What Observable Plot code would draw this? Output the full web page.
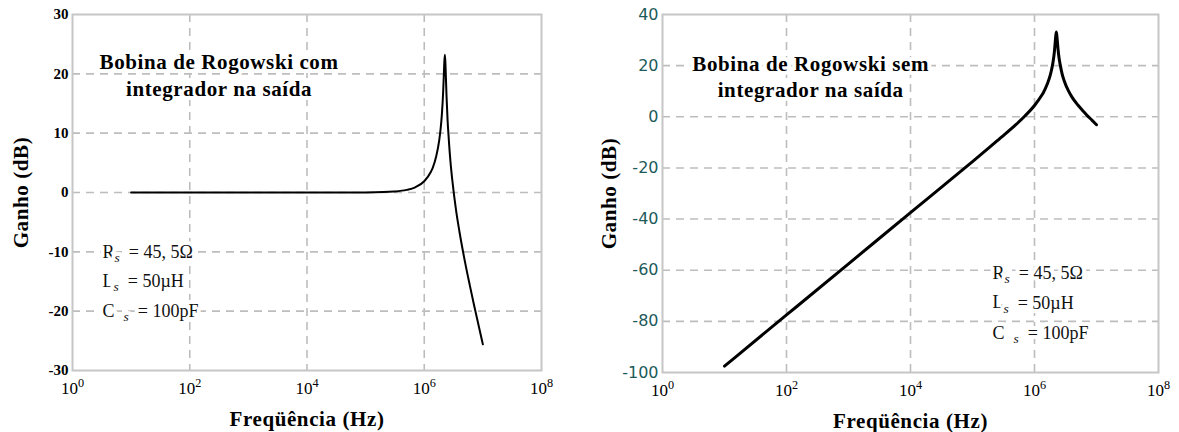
<!DOCTYPE html>
<html>
<head>
<meta charset="utf-8">
<script src="https://cdn.jsdelivr.net/npm/d3@7"></script>
<script src="https://cdn.jsdelivr.net/npm/@observablehq/plot@0.6"></script>
<style>
  html, body { margin: 0; padding: 0; background: #fff; }
  #wrap { display: flex; width: 1179px; height: 432px; }
  #wrap svg { overflow: visible; }
  #wrap g[aria-label="x-axis label"] text, #wrap g[aria-label="y-axis label"] text {
    font-family: "Liberation Serif", serif !important; font-size: 21px !important;
    font-weight: bold !important; letter-spacing: 0.6px; fill: #000 !important;
  }
  #wrap g[aria-label="x-axis tick label"] text {
    font-family: "Liberation Serif", serif !important; font-size: 17px !important; fill: #000 !important;
  }
  #left g[aria-label="y-axis tick label"] text {
    font-family: "Liberation Serif", serif !important; font-size: 15px !important; font-weight: bold !important; fill: #000 !important;
  }
  #right g[aria-label="y-axis tick label"] text {
    font-family: "DejaVu Sans", sans-serif !important; font-size: 16px !important; fill: #1d5a5a !important;
  }
  #wrap g[aria-label="text"] text { letter-spacing: 0.6px; }
</style>
</head>
<body>
<div id="wrap"><div id="left"></div><div id="right"></div></div>
<script>
// ---- data ----
const freqHz = [10, 100, 1e3, 1e4, 1e5, 2e5, 3e5, 5e5, 7e5, 1e6, 1.3e6, 1.4e6, 1.6e6, 1.8e6, 1.9e6, 2.0e6, 2.1e6, 2.15e6, 2.2e6, 2.25e6, 2.3e6, 2.35e6, 2.4e6, 2.5e6, 2.6e6, 2.8e6, 3e6, 3.5e6, 4e6, 5e6, 6e6, 7e6, 8.5e6, 1e7];
const gainWithIntegratorDb = [0, 0, 0, 0, 0.02, 0.07, 0.16, 0.44, 0.88, 1.9, 3.5, 4.2, 6.1, 8.8, 10.7, 13.2, 16.9, 19.4, 22.0, 23.2, 21.6, 18.9, 16.2, 12.2, 9.5, 5.2, 2.2, -3.1, -6.7, -11.9, -15.7, -18.8, -22.5, -25.6];
const gainWithoutIntegratorDb = [-97.5, -77.5, -57.5, -37.5, -17.5, -11.4, -7.8, -3.1, 0.3, 4.4, 8.3, 9.6, 12.7, 16.4, 18.8, 21.7, 25.8, 28.6, 31.4, 33.2, 31.3, 28.8, 26.3, 22.7, 20.3, 16.6, 14.2, 10.3, 7.8, 4.6, 2.4, 0.6, -1.4, -3.1];

const xTicks = [1, 1e2, 1e4, 1e6, 1e8];
const xGrid = [1e2, 1e4, 1e6];
const yTicksLeft = [-30, -20, -10, 0, 10, 20, 30];
const yGridLeft = [-20, -10, 0, 10, 20];
const yTicksRight = [-100, -80, -60, -40, -20, 0, 20, 40];
const yGridRight = [-80, -60, -40, -20, 0, 20];

const titleLeft = ["Bobina de Rogowski com", "integrador na saída"];
const titleRight = ["Bobina de Rogowski sem", "integrador na saída"];
const paramNames = ["R", "L", "C\u2002"];
const paramValues = ["= 45, 5Ω", "= 50µH", "= 100pF"];
const xLabel = "Freqüência (Hz)";
const yLabel = "Ganho (dB)";

const rowsLeft = freqHz.map((f, i) => ({f, g: gainWithIntegratorDb[i]}));
const rowsRight = freqHz.map((f, i) => ({f, g: gainWithoutIntegratorDb[i]}));

const SERIF = "Liberation Serif, Times New Roman, serif";
const gridStyle = {stroke: "#bdbdbd", strokeOpacity: 1, strokeWidth: 1.6, strokeDasharray: "8,6"};
const expFmt = d => "10^" + Math.round(Math.log10(d));
const plainFmt = d => String(d);

function superscriptTicks(svg) {
  d3.select(svg).selectAll('g[aria-label="x-axis tick label"] text').each(function () {
    const parts = this.textContent.split("^");
    if (parts.length < 2) return;
    const s = d3.select(this);
    s.text(null);
    s.append("tspan").text(parts[0]);
    s.append("tspan").attr("dy", "-0.5em").attr("font-size", "0.72em").text(parts[1]);
  });
}

function addParams(svg, plot, xPos, yPos) {
  const sx = plot.scale("x"), sy = plot.scale("y");
  const g = d3.select(svg).append("g")
    .attr("font-family", SERIF).attr("font-size", 18).attr("fill", "#111")
    .attr("text-anchor", "start");
  paramNames.forEach((n, i) => {
    const t = g.append("text")
      .attr("x", sx.apply(xPos)).attr("y", sy.apply(yPos[i]))
      .attr("dy", "0.35em")
      .attr("stroke", "white").attr("stroke-width", 8).attr("stroke-linejoin", "round")
      .attr("paint-order", "stroke");
    t.append("tspan").text(n);
    t.append("tspan").attr("dy", "0.3em").attr("font-size", "0.75em").attr("font-style", "italic").text("s");
    t.append("tspan").attr("dy", "-0.22em").text("\u2002" + paramValues[i]);
  });
}

function makePlot(opts) {
  const rows = opts.rows;
  const plot = Plot.plot({
    width: opts.width, height: 432,
    marginLeft: opts.ml, marginRight: opts.mr, marginTop: 14, marginBottom: opts.mb,
    style: {fontFamily: SERIF, fontSize: "15px", color: "#000", background: "#fff"},
    x: {type: "log", domain: [1, 1e8]},
    y: {domain: opts.yDomain},
    marks: [
      Plot.gridX(xGrid, gridStyle),
      Plot.gridY(opts.yGrid, gridStyle),
      Plot.frame({stroke: "#c6c6c6", strokeWidth: 2}),
      Plot.axisX(xTicks, {tickSize: 0, tickPadding: 11, tickFormat: expFmt,
        label: xLabel, labelAnchor: "center", labelArrow: "none", labelOffset: 55}),
      Plot.axisY(opts.yTicks, {tickSize: 0, tickPadding: 4, tickFormat: plainFmt,
        label: yLabel, labelAnchor: "center", labelArrow: "none", labelOffset: opts.ylo}),
      Plot.line(rows, {x: "f", y: "g", stroke: "#000", strokeWidth: opts.sw, curve: "monotone-x"}),
      Plot.text(opts.title, {
        x: opts.titleX, y: (d, i) => opts.titleY[i], text: d => d,
        fontFamily: SERIF, fontSize: 21, fontWeight: "bold", fill: "#000",
        stroke: "white", strokeWidth: 8, textAnchor: "middle"
      })
    ]
  });
  superscriptTicks(plot);
  addParams(plot, plot, opts.paramX, opts.paramY);
  return plot;
}

const left = makePlot({
  rows: rowsLeft, width: 580, ml: 72, mr: 39, mb: 62,
  yDomain: [-30, 30], yTicks: yTicksLeft, yGrid: yGridLeft, ylo: 59, sw: 2,
  title: titleLeft, titleX: Math.pow(10, 2.5), titleY: [21.9, 17.4],
  paramX: Math.pow(10, 0.52), paramY: [-10, -15, -20]
});
document.getElementById("left").appendChild(left);

const right = makePlot({
  rows: rowsRight, width: 599, ml: 82, mr: 21, mb: 60,
  yDomain: [-100, 40], yTicks: yTicksRight, yGrid: yGridRight, ylo: 61, sw: 3,
  title: titleRight, titleX: Math.pow(10, 2.39), titleY: [20.4, 10.3],
  paramX: Math.pow(10, 5.33), paramY: [-61, -72.7, -84.5]
});
document.getElementById("right").appendChild(right);
</script>
</body>
</html>
